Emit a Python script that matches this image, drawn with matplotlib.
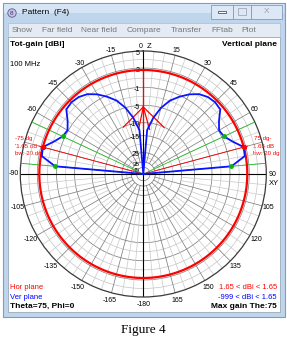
import numpy as np
import matplotlib
matplotlib.use('Agg')
import matplotlib.pyplot as plt
from matplotlib.patches import Rectangle

plt.rcParams['font.family'] = ['Liberation Sans', 'DejaVu Sans']

# ---------------- data ----------------
theta_deg = [0, 5, 10, 15, 20, 25, 30, 35, 40, 45, 50, 55, 60, 65, 70, 75, 80, 85, 90]
ver_gain = [-999, -12.8, -8.4, -5.05, -2.9, -1.33, -0.19, 0.65, 1.11, 1.27, 1.11, -0.13,
            -0.88, -0.65, 0.27, 1.65, 1.5, -0.72, -999]
hor_gain = 1.65
max_theta = 75
bw_edges = [65, 85]
ring_db = [5, 2, -1, -5, -10, -15, -25, -35, -45]
ring_labels = ['5', '2', '-1', '-5', '-10', '-15', '25', '35', '45']
minor_ring_db = [3.5, 0.4, -3, -20, -30]
angle_ticks = [a for a in range(-165, 181, 15) if a not in (0, 75, -75)]
menu_items = ['Show', 'Far field', 'Near field', 'Compare', 'Transfer', 'FFtab', 'Plot']
menu_x = [12, 42, 81, 127, 171, 211, 241]
# polarisation indicator (theta deg, radius px)
pol_tips_theta = [-23, -6, 8, 24]
pol_tips_r = [51, 45, 45, 51]
pol_apex = (0, 67)

# ---------------- scale (ARRL-like log) ----------------
scale_db = [-60, -45, -35, -25, -15, -10, -5, -1, 1.65, 5]
scale_r = [0, 6.7, 12, 21.4, 38.3, 51.3, 68.7, 86.7, 104, 123]
R = 123.0


def rad(db):
    return np.interp(db, scale_db, scale_r)


W, H = 287, 342
fig = plt.figure(figsize=(W / 100, H / 100), dpi=100)
fig.patch.set_facecolor('white')

bg = fig.add_axes([0, 0, 1, 1])
bg.set_xlim(0, W)
bg.set_ylim(H, 0)
bg.axis('off')

# window frame
bg.add_patch(Rectangle((2.5, 2.5), 282, 314, facecolor='#bfd5ec', edgecolor='#7d9cbf', lw=0.8))
bg.add_patch(Rectangle((3.5, 3.5), 280, 9, facecolor='#d6e5f5', edgecolor='none'))
# menu bar
bg.add_patch(Rectangle((7.5, 23), 272, 14, facecolor='#e4ebf4', edgecolor='#a9bdd3', lw=0.5))
for t, x in zip(menu_items, menu_x):
    bg.text(x, 30.5, t, fontsize=6, color='#767676', ha='left', va='center')
# plot area
bg.add_patch(Rectangle((7.5, 37), 272, 275, facecolor='white', edgecolor='#8a9bb0', lw=0.5))
# title
bg.add_patch(plt.Circle((12, 13), 4.2, facecolor='#c9c3e8', edgecolor='#5a5a8a', lw=0.6))
bg.text(12, 13.3, '8', fontsize=4.5, ha='center', va='center', color='#333366')
bg.text(22, 13, 'Pattern  (F4)', fontsize=6, ha='left', va='center', color='black')
# window buttons
bg.add_patch(Rectangle((211, 4.5), 22, 14, facecolor='#dce8f5', edgecolor='#7f9cbd', lw=0.6))
bg.add_patch(Rectangle((233, 4.5), 18, 14, facecolor='#dce8f5', edgecolor='#7f9cbd', lw=0.6))
bg.add_patch(Rectangle((251, 4.5), 31, 14, facecolor='#dce8f5', edgecolor='#7f9cbd', lw=0.6))
bg.add_patch(Rectangle((218, 11), 8, 2.2, facecolor='white', edgecolor='#555555', lw=0.6))
bg.add_patch(Rectangle((238, 8), 8, 7, facecolor='none', edgecolor='#a0a8b8', lw=0.6))
bg.text(266.5, 11.5, 'X', fontsize=6, ha='center', va='center', color='#9aa3b0')

# header / footer texts
bg.text(10, 44.5, 'Tot-gain [dBi]', fontsize=6, fontweight='bold', ha='left', va='center')
bg.text(277, 44.5, 'Vertical plane', fontsize=6, fontweight='bold', ha='right', va='center')
bg.text(10, 64, '100 MHz', fontsize=5.5, ha='left', va='center')
bg.text(10, 287.5, 'Hor plane', fontsize=5.5, color='red', ha='left', va='center')
bg.text(10, 297.5, 'Ver plane', fontsize=5.5, color='blue', ha='left', va='center')
bg.text(10, 306.5, 'Theta=75, Phi=0', fontsize=6, fontweight='bold', ha='left', va='center')
bg.text(277, 287.5, '1.65 < dBi < 1.65', fontsize=5.5, color='red', ha='right', va='center')
bg.text(277, 297.5, '-999 < dBi < 1.65', fontsize=5.5, color='blue', ha='right', va='center')
bg.text(277, 306.5, 'Max gain The:75', fontsize=6, fontweight='bold', ha='right', va='center')
bg.text(143.5, 330, 'Figure 4', fontsize=9.5, family=['Liberation Serif', 'DejaVu Serif'],
        ha='center', va='center')

# ---------------- polar axes ----------------
cx, cy = 143.3, 174.0
ax = fig.add_axes([(cx - R) / W, (H - cy - R) / H, 2 * R / W, 2 * R / H], projection='polar')
ax.set_theta_zero_location('N')
ax.set_theta_direction(-1)
ax.set_ylim(0, R)
ax.set_xticks([])
ax.set_yticks([])
ax.grid(False)
ax.patch.set_alpha(0)
ax.spines['polar'].set_color('#3a3a3a')
ax.spines['polar'].set_linewidth(0.9)

full = np.linspace(0, 2 * np.pi, 721)
for d in minor_ring_db:
    ax.plot(full, np.full_like(full, rad(d)), color='#c4c4c4', lw=0.5, zorder=1)
for d in ring_db[1:]:
    ax.plot(full, np.full_like(full, rad(d)), color='#808080', lw=0.55, zorder=1)

for a in range(0, 360, 5):
    t = np.deg2rad(a)
    if a % 90 == 0:
        continue
    if a % 15 == 0:
        ax.plot([t, t], [rad(-35), R], color='#808080', lw=0.55, zorder=1)
    else:
        ax.plot([t, t], [rad(-15), R], color='#c8c8c8', lw=0.5, zorder=1)
for a in [0, 90, 180, 270]:
    t = np.deg2rad(a)
    ax.plot([t, t], [0, R], color='black', lw=0.8, zorder=2)

# ring labels
for d, lab in zip(ring_db, ring_labels):
    fs = 4.6 if d <= -35 else 5
    ax.annotate(lab, xy=(0, rad(d)), xytext=(-2.5, -1.6 if d > -40 else -2.4),
                textcoords='offset points', fontsize=fs, ha='right', va='center', zorder=3)

# angle labels
for a in angle_ticks:
    t = np.deg2rad(a)
    rl = R + 4.5 + 3.5 * (1 - np.cos(t)) / 2
    lab = '-180' if a == 180 else str(a)
    ax.text(t, rl, lab, fontsize=5, ha='center', va='center', clip_on=False)
ax.annotate('0', xy=(0, R), xytext=(-0.6, 3.2), textcoords='offset points',
            fontsize=5, ha='right', va='center', annotation_clip=False)
ax.annotate('Z', xy=(0, R), xytext=(2.4, 3.4), textcoords='offset points',
            fontsize=5.5, ha='left', va='center', annotation_clip=False)
ax.text(np.deg2rad(94), R + 8, 'XY', fontsize=5.5, ha='center', va='center', clip_on=False)

# Hor plane (constant)
ax.plot(full, np.full_like(full, rad(hor_gain)), color='red', lw=1.6, zorder=5)

# beamwidth / max lines
for s in (1, -1):
    for b in bw_edges:
        ax.plot([0, np.deg2rad(s * b)], [0, R], color='#22bb22', lw=0.6, zorder=4)
    ax.plot([0, np.deg2rad(s * max_theta)], [0, rad(hor_gain) + 4], color='red', lw=0.6, zorder=4)

# Ver plane
th = np.array(theta_deg, dtype=float)
g = np.array(ver_gain, dtype=float)
th_full = np.concatenate([-th[::-1], th[1:]])
g_full = np.concatenate([g[::-1], g[1:]])
ax.plot(np.deg2rad(th_full), rad(g_full), color='#0a14ff', lw=1.3, zorder=6)

# markers
for s in (1, -1):
    for b in bw_edges:
        ax.plot(np.deg2rad(s * b), rad(g[theta_deg.index(b)]), 'o', color='#10b010', ms=2.5, zorder=7)
    ax.plot(np.deg2rad(s * max_theta), rad(g[theta_deg.index(max_theta)]), 'o',
            color='red', ms=2.8, zorder=7)

# polarisation indicator
ax.plot([0, 0], [rad(hor_gain), min(pol_tips_r)], color='red', lw=0.9, zorder=5)
for tt, rr in zip(pol_tips_theta, pol_tips_r):
    ax.plot([np.deg2rad(pol_apex[0]), np.deg2rad(tt)], [pol_apex[1], rr], color='red', lw=0.9, zorder=5)

# beam labels
for x0, lines in ((15, ['-75 dg', "'1.65 dB", 'bw: 20 dg']), (254, ['75 dg-', '1.65 dB', 'bw: 20 dg'])):
    for i, t in enumerate(lines):
        bg.text(x0 - (1 if (x0 > 200 and i) else 0), 138.5 + 7.5 * i, t, fontsize=4.4,
                color='red', ha='left', va='center')

fig.savefig('out.png', dpi=100)
